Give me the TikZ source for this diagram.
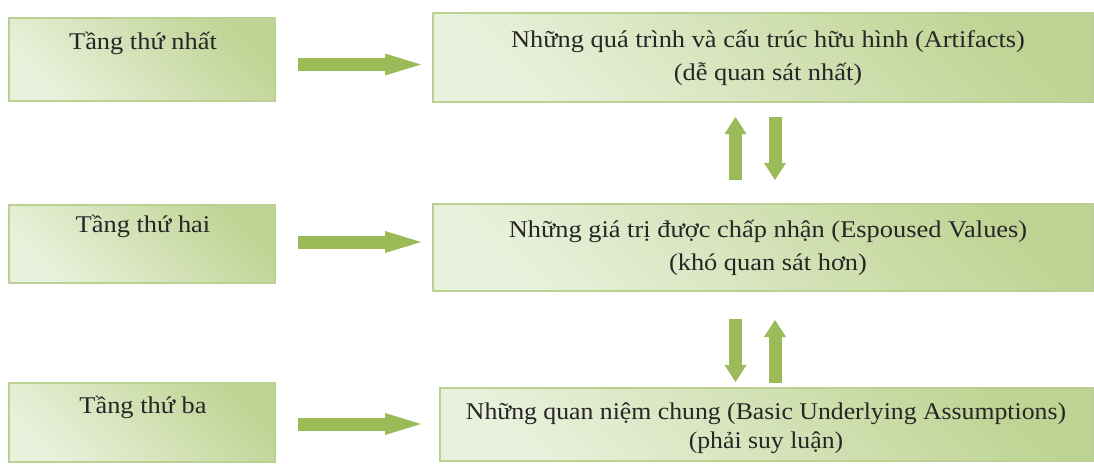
\documentclass[tikz,border=0pt]{standalone}
\usepackage{fontspec}
\setmainfont{Liberation Serif}
\usetikzlibrary{arrows.meta}

\definecolor{boxdark}{HTML}{BFD494}
\definecolor{boxlight}{HTML}{E9F0DB}
\definecolor{boxline}{HTML}{BAD193}
\definecolor{arrowgreen}{HTML}{9BBB59}

\tikzset{
  layerbox/.style={draw=boxline, line width=1.3pt, shading=axis,
    top color=boxdark, bottom color=boxlight, shading angle=-45,
    inner sep=0pt, outer sep=0pt},
  tiertext/.style={font=\fontsize{24}{28}\selectfont, text=black!85,
    inner sep=0pt, xscale=1.1, transform shape},
  leveltext/.style={font=\fontsize{24}{33}\selectfont, text=black!85,
    align=center, inner sep=0pt, xscale=1.1, transform shape},
  hflow/.style={draw=arrowgreen, line width=13pt,
    -{Triangle[length=36pt,width=22pt,line width=0pt]}},
  vflow/.style={draw=arrowgreen, line width=13pt,
    -{Triangle[length=17pt,width=22pt,line width=0pt]}},
}

\begin{document}
\begin{tikzpicture}[x=1pt,y=-1pt]
\useasboundingbox (0,0) rectangle (1094,463);

% tier labels on the left
\node[layerbox, minimum width=266pt, minimum height=83pt] (l1) at (142,59.5) {};
\node[layerbox, minimum width=266pt, minimum height=78pt] (l2) at (142,244) {};
\node[layerbox, minimum width=266pt, minimum height=79pt] (l3) at (142,422.5) {};
\node[tiertext] (t1) at (143,43) {Tầng thứ nhất};
\node[tiertext] (t2) at (143,226) {Tầng thứ hai};
\node[tiertext] (t3) at (143,407) {Tầng thứ ba};

% culture levels on the right
\node[layerbox, minimum width=660pt, minimum height=89pt] (r1) at (763,57.5) {};
\node[layerbox, minimum width=660pt, minimum height=87pt] (r2) at (763,247.5) {};
\node[layerbox, minimum width=653pt, minimum height=73pt] (r3) at (766.5,424.5) {};
\node[leveltext] (s1) at (768,57.5)
  {Những quá trình và cấu trúc hữu hình (Artifacts)\\(dễ quan sát nhất)};
\node[leveltext] (s2) at (768,247.5)
  {Những giá trị được chấp nhận (Espoused Values)\\(khó quan sát hơn)};
\node[leveltext, font=\fontsize{24}{29}\selectfont, xscale=0.975] (s3) at (766,428)
  {Những quan niệm chung (Basic Underlying Assumptions)\\(phải suy luận)};

% rows and columns of the block arrows
\coordinate (a1) at (0,64.5);
\coordinate (a2) at (0,242);
\coordinate (a3) at (0,424);
\coordinate (cu) at (735.5,0);
\coordinate (cd) at (775,0);

\draw[hflow, shorten <=23pt, shorten >=12pt] (l1.east |- a1) -- (r1.west |- a1);
\draw[hflow, shorten <=23pt, shorten >=12pt] (l2.east |- a2) -- (r2.west |- a2);
\draw[hflow, shorten <=23pt, shorten >=19pt] (l3.east |- a3) -- (r3.west |- a3);

\draw[vflow, shorten <=24pt, shorten >=15pt] (r2.north -| cu) -- (r1.south -| cu);
\draw[vflow, shorten <=15pt, shorten >=24pt] (r1.south -| cd) -- (r2.north -| cd);
\draw[vflow, shorten <=28pt, shorten >=6pt] (r2.south -| cu) -- (r3.north -| cu);
\draw[vflow, shorten <=5pt, shorten >=29pt] (r3.north -| cd) -- (r2.south -| cd);
\end{tikzpicture}
\end{document}
